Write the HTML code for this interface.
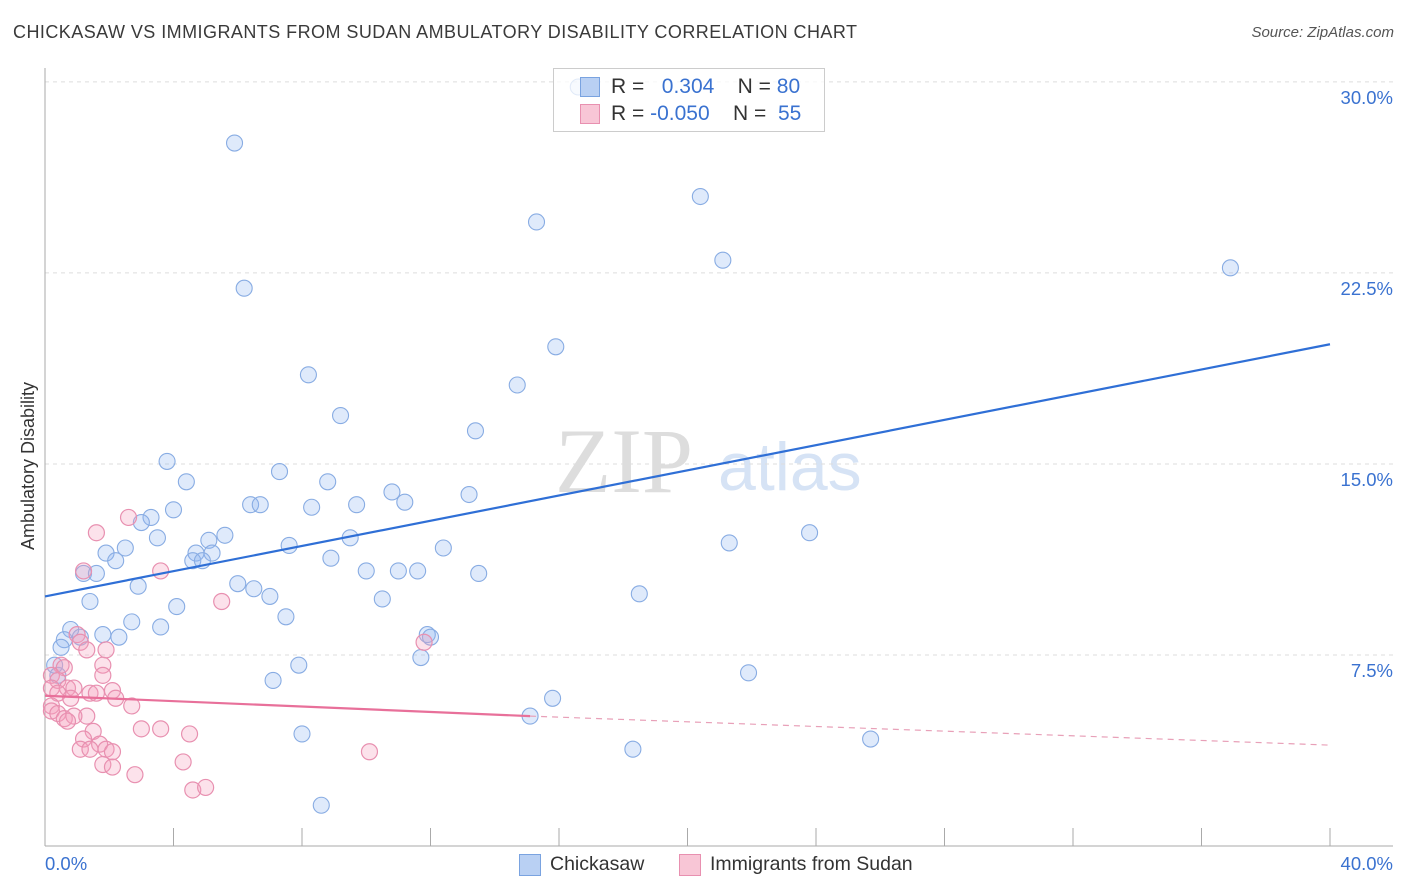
<!DOCTYPE html>
<html><head><meta charset="utf-8">
<style>
body{margin:0;background:#fff;font-family:"Liberation Sans",sans-serif;}
#wrap{position:relative;width:1406px;height:892px;overflow:hidden;}
.t{position:absolute;white-space:nowrap;}
</style></head><body>
<div id="wrap">
<div class="t" style="left:13px;top:22px;font-size:18px;letter-spacing:0.45px;color:#3a3a3a;">CHICKASAW VS IMMIGRANTS FROM SUDAN AMBULATORY DISABILITY CORRELATION CHART</div>
<div class="t" style="right:12px;top:24px;font-size:15px;color:#555;font-style:italic;">Source: ZipAtlas.com</div>
<svg id="svg" width="1406" height="892" style="position:absolute;left:0;top:0">
<text x="555" y="492" font-family="Liberation Serif,serif" font-size="92" fill="#ddd">ZIP</text>
<text x="718" y="490" font-family="Liberation Sans,sans-serif" font-size="68" fill="#d6e3f5">atlas</text>
</svg>
<div class="t" style="left:18px;top:455px;transform:rotate(-90deg);transform-origin:0 0;font-size:18px;color:#333;"><span style="position:relative;left:-95px">Ambulatory Disability</span></div>
<div style="position:absolute;left:553px;top:68px;width:270px;height:62px;border:1px solid #ccc;background:rgba(255,255,255,0.75);">
 <div style="position:absolute;left:26px;top:8px;width:18px;height:18px;background:#b9d0f3;border:1px solid #7aa3e0"></div>
 <div class="t" style="left:57px;top:6px;font-size:21px;color:#333">R = &nbsp;<span style="color:#3a72d0">&nbsp;0.304</span>&nbsp;&nbsp;&nbsp; N = <span style="color:#3a72d0">80</span></div>
 <div style="position:absolute;left:26px;top:35px;width:18px;height:18px;background:#f8c6d6;border:1px solid #e890b0"></div>
 <div class="t" style="left:57px;top:33px;font-size:21px;color:#333">R = <span style="color:#3a72d0">-0.050</span>&nbsp;&nbsp;&nbsp; N = &nbsp;<span style="color:#3a72d0">55</span></div>
</div>
<div style="position:absolute;left:519px;top:854px;width:20px;height:20px;background:#b9d0f3;border:1px solid #7aa3e0"></div>
<div class="t" style="left:550px;top:853px;font-size:19.5px;color:#333">Chickasaw</div>
<div style="position:absolute;left:679px;top:854px;width:20px;height:20px;background:#f8c6d6;border:1px solid #e890b0"></div>
<div class="t" style="left:710px;top:853px;font-size:19.5px;color:#333">Immigrants from Sudan</div>
</div>
<script>
const yTicks=[7.5,15,22.5,30];
const yTickLabels=["7.5%","15.0%","22.5%","30.0%"];
const xTickCount=10;
const blueX=[5.9,6.2,16.6,15.3,20.4,21.1,36.9,15.9,14.7,8.2,9.2,13.4,3.8,4.4,7.3,8.8,6.4,6.7,8.3,9.7,10.8,11.2,13.2,4.0,3.3,3.0,3.5,5.6,5.1,7.6,9.5,12.4,21.3,23.8,1.9,2.5,2.2,4.7,5.2,4.6,4.9,8.9,1.2,1.6,10.0,11.0,11.6,13.5,2.9,6.0,6.5,7.0,10.5,18.5,1.4,4.1,7.5,2.7,3.6,0.8,1.8,2.3,0.6,1.1,11.9,12.0,0.5,11.7,0.3,7.9,21.9,7.1,0.4,15.8,15.1,8.0,18.3,25.7,8.6];
const blueY=[27.6,21.9,29.8,24.5,25.5,23.0,22.7,19.6,18.1,18.5,16.9,16.3,15.1,14.3,14.7,14.3,13.4,13.4,13.3,13.4,13.9,13.5,13.8,13.2,12.9,12.7,12.1,12.2,12.0,11.8,12.1,11.7,11.9,12.3,11.5,11.7,11.2,11.5,11.5,11.2,11.2,11.3,10.7,10.7,10.8,10.8,10.8,10.7,10.2,10.3,10.1,9.8,9.7,9.9,9.6,9.4,9.0,8.8,8.6,8.5,8.3,8.2,8.1,8.2,8.3,8.2,7.8,7.4,7.1,7.1,6.8,6.5,6.7,5.8,5.1,4.4,3.8,4.2,1.6];
const pinkX=[1.6,2.6,3.6,1.2,5.5,1.0,1.1,11.8,1.3,1.9,0.5,0.6,1.8,1.8,0.2,0.4,0.2,0.7,0.9,1.4,1.6,2.1,0.4,0.8,2.2,2.7,0.2,0.2,0.4,1.3,0.6,0.9,0.7,1.5,3.0,3.6,4.5,1.2,1.7,1.1,1.4,1.9,2.1,10.1,4.3,1.8,2.1,2.8,4.6,5.0];
const pinkY=[12.3,12.9,10.8,10.8,9.6,8.3,8.0,8.0,7.7,7.7,7.1,7.0,7.1,6.7,6.7,6.5,6.2,6.2,6.2,6.0,6.0,6.1,6.0,5.8,5.8,5.5,5.5,5.3,5.2,5.1,5.0,5.1,4.9,4.5,4.6,4.6,4.4,4.2,4.0,3.8,3.8,3.8,3.7,3.7,3.3,3.2,3.1,2.8,2.2,2.3];
const blueTrend=[9.8,19.7];
const pinkTrend=[5.9,5.1,3.96];
const pinkSolidEnd=15.1;
const X0=45,X1=1330,XMAX=40,Y0=846,PPY=25.47;
const sx=v=>X0+v*(X1-X0)/XMAX, sy=v=>Y0-v*PPY;
const svg=document.getElementById('svg'),NS='http://www.w3.org/2000/svg';
function mk(t,a){const e=document.createElementNS(NS,t);for(const k in a)e.setAttribute(k,a[k]);svg.appendChild(e);return e;}
yTicks.forEach((v,i)=>{
 const g=mk('line',{x1:X0,x2:1393,y1:sy(v),y2:sy(v),stroke:'#ddd','stroke-dasharray':'4,4'});
 
 
 const t=mk('text',{x:1393,y:sy(v)+22,'text-anchor':'end','font-size':18.5,fill:'#3a72d0','font-family':'Liberation Sans,sans-serif'});
 t.textContent=yTickLabels[i];
 
 
});
const ax=mk('line',{x1:X0,x2:X0,y1:68,y2:Y0,stroke:'#aaa'});


const bx=mk('line',{x1:X0,x2:1393,y1:Y0,y2:Y0,stroke:'#aaa'});


for(let i=1;i<=xTickCount;i++){
 const tk=mk('line',{x1:sx(i*4),x2:sx(i*4),y1:828,y2:Y0,stroke:'#aaa'});
 
 
}
[[0,'0.0%','start',X0],[40,'40.0%','end',1393]].forEach(d=>{
 const t=mk('text',{x:d[3],y:870,'text-anchor':d[2],'font-size':18.5,fill:'#3a72d0','font-family':'Liberation Sans,sans-serif'});
 t.textContent=d[1];
 
 
});
blueX.forEach((v,i)=>{
 const c=mk('circle',{cx:sx(v),cy:sy(blueY[i]),r:8,fill:'rgba(140,180,240,0.28)',stroke:'#88acE3','stroke-width':1.1});
 
 
});
pinkX.forEach((v,i)=>{
 const c=mk('circle',{cx:sx(v),cy:sy(pinkY[i]),r:8,fill:'rgba(245,160,190,0.3)',stroke:'#e890b0','stroke-width':1.2});
 
 
});
const bl=mk('line',{x1:sx(0),y1:sy(blueTrend[0]),x2:sx(40),y2:sy(blueTrend[1]),stroke:'#2f6fd6','stroke-width':2.2});


const pl=mk('line',{x1:sx(0),y1:sy(pinkTrend[0]),x2:sx(pinkSolidEnd),y2:sy(pinkTrend[1]),stroke:'#e8709a','stroke-width':2.2});


const pd=mk('line',{x1:sx(pinkSolidEnd),y1:sy(pinkTrend[1]),x2:sx(40),y2:sy(pinkTrend[2]),stroke:'#e8a0b8','stroke-width':1.2,'stroke-dasharray':'6,5'});


</script>
</body></html>
